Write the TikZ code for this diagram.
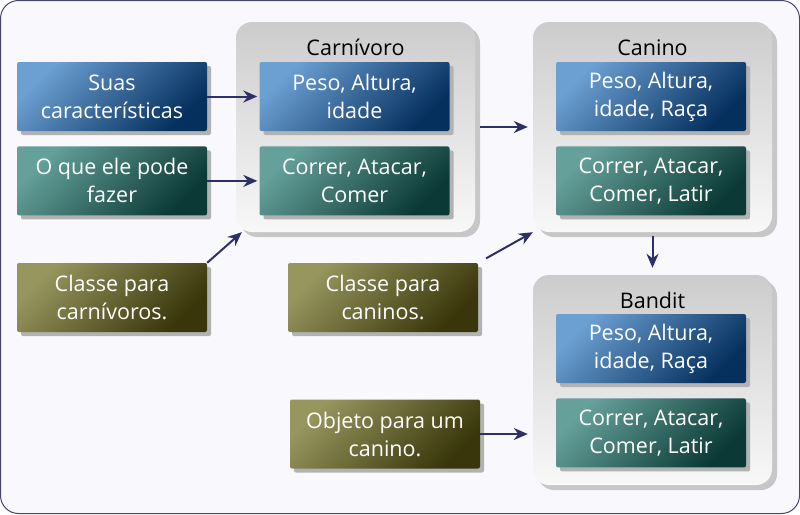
\documentclass[tikz,border=0pt]{standalone}
\usepackage{fontspec}
\setmainfont{Open Sans}
\usepackage{xcolor}
\definecolor{cFrame}{HTML}{45456E}
\definecolor{cBack}{HTML}{F8F8FD}
\definecolor{cArrow}{HTML}{2F2F68}
\definecolor{cBlueA}{HTML}{6C9FD2}
\definecolor{cBlueB}{HTML}{05305E}
\definecolor{cTealA}{HTML}{65A09A}
\definecolor{cTealB}{HTML}{0B3935}
\definecolor{cOliveA}{HTML}{97965F}
\definecolor{cOliveB}{HTML}{38360A}
\definecolor{cGroupA}{HTML}{CCCCCC}
\definecolor{cGroupB}{HTML}{F8F8F8}
\usepackage{tikz}
\usetikzlibrary{positioning,arrows.meta,calc,shadows}
\tikzset{
  node-box/.style={rounded corners=2pt,minimum width=190pt,minimum height=69pt,
    align=center,text=white,font=\fontsize{21.5}{28}\selectfont,
    drop shadow={shadow xshift=4pt,shadow yshift=-4pt,fill=black!30,opacity=1}},
  node-attr/.style={node-box,top color=cBlueA,bottom color=cBlueB,shading angle=45},
  node-act/.style={node-box,top color=cTealA,bottom color=cTealB,shading angle=45},
  node-note/.style={node-box,top color=cOliveA,bottom color=cOliveB,shading angle=45},
  node-group/.style={rounded corners=16pt,minimum width=239pt,minimum height=210pt,
    top color=cGroupA,bottom color=cGroupB,
    drop shadow={shadow xshift=5pt,shadow yshift=-5pt,fill=black!22,opacity=1}},
  node-title/.style={anchor=base,font=\fontsize{21.5}{28}\selectfont,text=black},
  arrow/.style={-{Stealth[length=14pt,width=12pt]},line width=2pt,draw=cArrow},
}
\begin{document}
\begin{tikzpicture}[x=1pt,y=-1pt,node distance=15pt]
  \useasboundingbox (0,0) rectangle (800,514);
  \draw[cFrame,fill=cBack,line width=1pt,rounded corners=18pt] (0.5,0.5) rectangle (799.5,513.5);

  % classes e objeto
  \node[node-group] (carn) at (355.5,127) {};
  \node[node-group] (canino) at (652.5,127) {};
  \node[node-group] (bandit) at (652.5,380) {};
  \node[node-title] at (355.5,55) {Carnívoro};
  \node[node-title] at (652.5,55) {Canino};
  \node[node-title] at (652.5,308) {Bandit};

  \node[node-attr] (cpeso) at (354.5,96.5) {Peso, Altura,\\idade};
  \node[node-act,below=of cpeso] (ccorr) {Correr, Atacar,\\Comer};
  \node[node-attr] (kpeso) at (651,96.5) {Peso, Altura,\\idade, Raça};
  \node[node-act,below=of kpeso] (kcorr) {Correr, Atacar,\\Comer, Latir};
  \node[node-attr] (bpeso) at (651,348.5) {Peso, Altura,\\idade, Raça};
  \node[node-act,below=of bpeso] (bcorr) {Correr, Atacar,\\Comer, Latir};

  % legendas
  \node[node-attr] (suas) at (112,96.5) {Suas\\características};
  \node[node-act,below=of suas] (fazer) {O que ele pode\\fazer};
  \node[node-note] (cls1) at (112,297.5) {Classe para\\carnívoros.};
  \node[node-note] (cls2) at (383,297.5) {Classe para\\caninos.};
  \node[node-note] (obj) at (385,434) {Objeto para um\\canino.};

  \draw[arrow,shorten >=2pt] (suas) -- (cpeso);
  \draw[arrow,shorten >=2pt] (fazer) -- (ccorr);
  \draw[arrow] (cls1.north east) -- ($(carn.south west)+(6,0)$);
  \draw[arrow,shorten <=9pt] (cls2.north east) -- (canino.south west);
  \draw[arrow,shorten <=5pt,shorten >=5pt] (carn.east) -- (canino.west);
  \draw[arrow,shorten <=4pt,shorten >=7pt] (canino.south) -- (bandit.north);
  \draw[arrow,shorten >=5pt] (obj.east) -- (obj.east -| bandit.west);
\end{tikzpicture}
\end{document}
